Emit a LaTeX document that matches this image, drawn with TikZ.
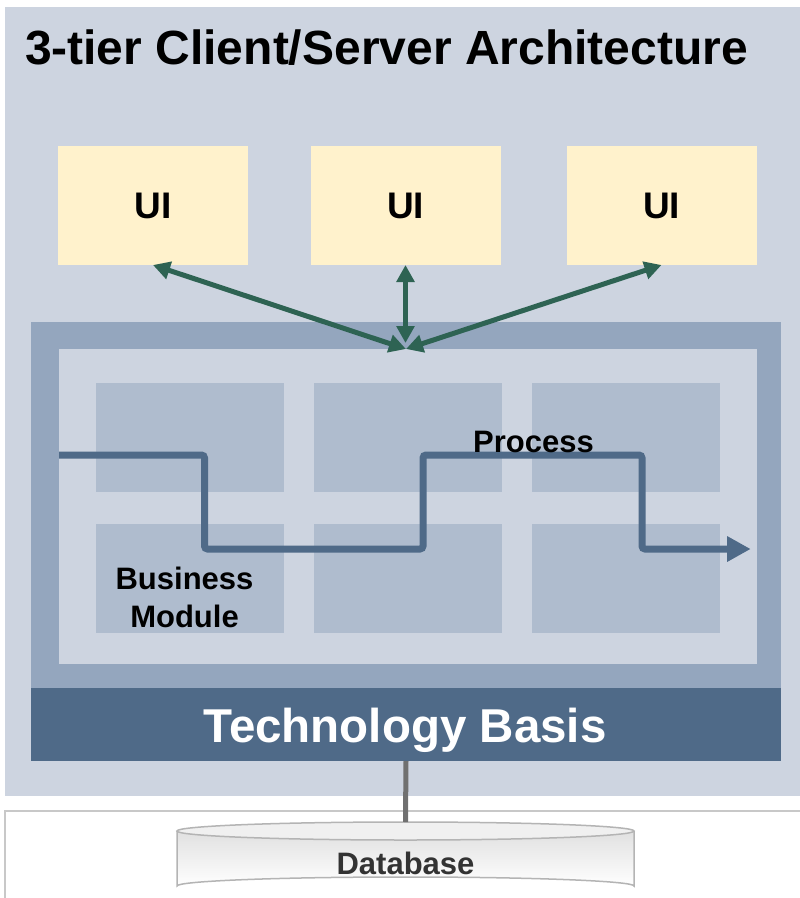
\documentclass[tikz,border=0pt]{standalone}
\usepackage{fontspec}
\setmainfont{Liberation Sans}
\usetikzlibrary{arrows.meta,positioning}

\definecolor{panelbg}{HTML}{CDD4E0}
\definecolor{framebg}{HTML}{94A6BE}
\definecolor{modulebg}{HTML}{AFBCCE}
\definecolor{techblue}{HTML}{4F6A88}
\definecolor{uiyellow}{HTML}{FFF2CC}
\definecolor{linkgreen}{HTML}{2E6353}
\definecolor{dbline}{HTML}{707070}
\definecolor{dbborder}{HTML}{B4B4B4}
\definecolor{boxborder}{HTML}{C8C8C8}
\definecolor{dbtext}{HTML}{333333}

\tikzset{
  px/.style={inner sep=0pt, outer sep=0pt},
  uibox/.style={px, fill=uiyellow, minimum width=190pt, minimum height=119pt,
    font=\fontsize{37}{44}\selectfont\bfseries},
  module/.style={px, fill=modulebg, minimum width=188pt, minimum height=109pt},
  biarrow/.style={draw=linkgreen, line width=5pt,
    {Triangle[length=17pt,width=17.5pt]}-{Triangle[length=17pt,width=17.5pt]}},
  flow/.style={draw=techblue, line width=7pt, rounded corners=3pt,
    -{Triangle[length=23.5pt,width=24pt]}},
  lbl/.style={px, font=\fontsize{31}{38}\selectfont\bfseries, align=center},
}

\begin{document}
\begin{tikzpicture}[x=1pt, y=-1pt]
  \useasboundingbox (0,0) rectangle (800,898);
  \clip (0,0) rectangle (800,898);
  \fill[white] (0,0) rectangle (800,898);

  % background panel of the three tiers
  \fill[panelbg] (5,7) rectangle (805,796);

  % title
  \node[px, anchor=base west, font=\fontsize{48}{58}\selectfont\bfseries]
    (title) at (25,64) {3-tier Client/Server Architecture};

  % presentation tier
  \node[uibox] (ui1) at (153,205.5) {UI};
  \node[uibox] (ui2) at (405.5,205.5) {UI};
  \node[uibox] (ui3) at (661.5,205.5) {UI};

  % application tier: frame, inner area and business modules
  \fill[framebg] (31,322) rectangle (781,688);
  \fill[panelbg] (59,349) rectangle (757,663.5);
  \node[module] (m11) at (190,437.5) {};
  \node[module] (m12) at (408,437.5) {};
  \node[module] (m13) at (626,437.5) {};
  \node[module] (m21) at (190,578) {};
  \node[module] (m22) at (408,578) {};
  \node[module] (m23) at (626,578) {};

  % technology basis bar
  \node[px, fill=techblue, minimum width=750pt, minimum height=73pt,
        anchor=north west] (tech) at (31,688) {};
  \node[px, anchor=base, text=white, font=\fontsize{47.5}{56}\selectfont\bfseries]
    (techlabel) at (405,742.7) {Technology Basis};

  % links between the UIs and the application tier
  \coordinate (hub) at (406,349);
  \coordinate (hubtop) at (405.5,343);
  \draw[biarrow] (ui1.south) -- (hub);
  \draw[biarrow] (ui2.south) -- (hubtop);
  \draw[biarrow] (ui3.south) -- (hub);

  % process running across the business modules
  \coordinate (pstart) at (59,455);
  \coordinate (pend) at (750.7,549);
  \draw[flow] (pstart) -- (204.5,455) -- (204.5,549) -- (423,549)
    -- (423,455) -- (642,455) -- (642,549) -- (pend);
  \node[lbl, anchor=base] (proclabel) at (533.5,452.7) {Process};
  % the base anchor of a two-line node sits on its last line
  \node[lbl, anchor=base] (buslabel) at (184.5,627.3)
    {Business\\[-0.5pt]Module};

  % data tier
  \draw[boxborder, line width=2pt, fill=white] (5,811) rectangle (806,905);
  \coordinate (dbtop) at (405.5,822);
  \fill[bottom color=white, top color=white!88!black]
    (177,831) -- (177,886) arc[start angle=180, end angle=360, x radius=228.5, y radius=9]
    -- (634,831) -- cycle;
  \draw[dbborder, line width=1.5pt]
    (177,831) -- (177,886) arc[start angle=180, end angle=360, x radius=228.5, y radius=9]
    -- (634,831);
  \draw[dbborder, line width=1.5pt, fill=white!94!black]
    (405.5,831) ellipse[x radius=228.5, y radius=9];
  \node[px, anchor=base, text=dbtext, font=\fontsize{31}{38}\selectfont\bfseries]
    (db) at (405.5,874.3) {Database};

  % connection from the technology basis to the database
  \draw[dbline, line width=5pt] (tech.south) -- (dbtop);
\end{tikzpicture}
\end{document}
